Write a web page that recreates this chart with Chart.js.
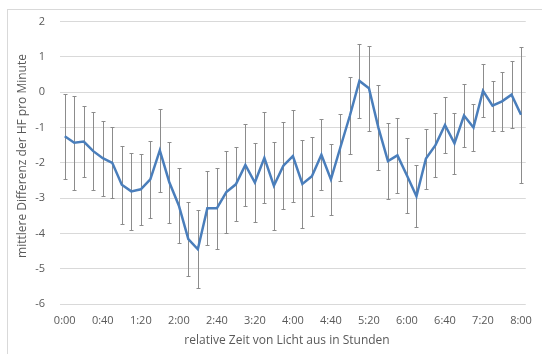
<!DOCTYPE html>
<html>
<head>
<meta charset="utf-8">
<script src="https://cdn.jsdelivr.net/npm/chart.js@4"></script>
<style>
  html, body { margin: 0; padding: 0; background: #fff; }
  #wrap { position: relative; width: 542px; height: 354px; overflow: hidden; }
  #frame { position: absolute; left: 7px; top: 9px; width: 600px; height: 400px;
           border-left: 1px solid #d9d9d9; border-top: 1px solid #d9d9d9; }
  canvas { position: absolute; left: 0; top: 0; }
</style>
</head>
<body>
<div id="wrap">
  <div id="frame"></div>
  <canvas id="chart" width="542" height="354"></canvas>
</div>
<script>
(function(){
  // time labels every 10 minutes, 0:00 .. 8:00
  const timeLabels = [
    '0:00','0:10','0:20','0:30','0:40','0:50',
    '1:00','1:10','1:20','1:30','1:40','1:50',
    '2:00','2:10','2:20','2:30','2:40','2:50',
    '3:00','3:10','3:20','3:30','3:40','3:50',
    '4:00','4:10','4:20','4:30','4:40','4:50',
    '5:00','5:10','5:20','5:30','5:40','5:50',
    '6:00','6:10','6:20','6:30','6:40','6:50',
    '7:00','7:10','7:20','7:30','7:40','7:50',
    '8:00'
  ];

  // mean difference of heart rate per minute
  const meanValues = [
    -1.25, -1.43, -1.40, -1.67, -1.87, -2.00,
    -2.62, -2.81, -2.75, -2.47, -1.65, -2.55,
    -3.21, -4.16, -4.45, -3.29, -3.29, -2.83,
    -2.61, -2.06, -2.56, -1.86, -2.65, -2.08,
    -1.81, -2.60, -2.38, -1.77, -2.47, -1.56,
    -0.66, 0.32, 0.11, -1.01, -1.95, -1.79,
    -2.36, -2.95, -1.88, -1.50, -0.93, -1.45,
    -0.66, -1.00, 0.04, -0.38, -0.26, -0.07,
    -0.64
  ];

  // error bar half length (+/-)
  const errValues = [
    1.21, 1.33, 1.00, 1.10, 1.06, 1.01,
    1.10, 1.10, 1.00, 1.10, 1.18, 1.15,
    1.05, 1.05, 1.11, 1.05, 1.15, 1.16,
    1.05, 1.17, 1.13, 1.29, 1.24, 1.23,
    1.31, 1.24, 1.12, 1.01, 1.00, 0.95,
    1.10, 1.05, 1.21, 1.20, 1.08, 1.07,
    1.05, 0.88, 0.85, 0.91, 0.79, 0.86,
    0.89, 0.67, 0.75, 0.71, 0.83, 0.94,
    1.93
  ];

  const xTitle = 'relative Zeit von Licht aus in Stunden';
  const yTitle = 'mittlere Differenz der HF pro Minute';

  const textColor = '#595959';
  const gridColor = '#d9d9d9';
  const lineColor = '#4a7ebb';
  const errColor = '#8c8c8c';
  const fontFamily = '"Open Sans", Calibri, sans-serif';

  // draws the vertical error bars with small caps
  const errorBars = {
    id: 'errorBars',
    beforeDatasetsDraw(chart){
      const ctx = chart.ctx;
      const xs = chart.scales.x, ys = chart.scales.y;
      ctx.save();
      ctx.strokeStyle = errColor;
      ctx.lineWidth = 1;
      meanValues.forEach((v, i) => {
        const x = Math.round(xs.getPixelForValue(i)) + 0.5;
        const yTop = Math.round(ys.getPixelForValue(v + errValues[i])) + 0.5;
        const yBot = Math.round(ys.getPixelForValue(v - errValues[i])) + 0.5;
        ctx.beginPath();
        ctx.moveTo(x, yTop); ctx.lineTo(x, yBot);
        ctx.moveTo(x - 2, yTop); ctx.lineTo(x + 2, yTop);
        ctx.moveTo(x - 2, yBot); ctx.lineTo(x + 2, yBot);
        ctx.stroke();
      });
      ctx.restore();
    }
  };

  // axis titles, centred on the whole chart frame like the original
  const axisTitles = {
    id: 'axisTitles',
    afterDraw(chart){
      const ctx = chart.ctx;
      ctx.save();
      ctx.fillStyle = textColor;
      ctx.font = '12px ' + fontFamily;
      ctx.textAlign = 'center';
      ctx.textBaseline = 'middle';
      ctx.fillText(xTitle, 287, 341);
      ctx.translate(23, 156);
      ctx.rotate(-Math.PI / 2);
      ctx.fillText(yTitle, 0, 0);
      ctx.restore();
    }
  };

  new Chart(document.getElementById('chart'), {
    type: 'line',
    data: {
      labels: timeLabels,
      datasets: [{
        data: meanValues,
        borderColor: lineColor,
        borderWidth: 2.5,
        pointRadius: 0,
        tension: 0,
        fill: false
      }]
    },
    options: {
      responsive: false,
      animation: false,
      events: [],
      layout: { padding: { left: 0, top: 20.5, right: 10, bottom: 0 } },
      plugins: {
        legend: { display: false },
        tooltip: { enabled: false }
      },
      scales: {
        x: {
          type: 'category',
          offset: true,
          grid: { display: false, drawTicks: false },
          border: { display: false },
          ticks: {
            autoSkip: false,
            maxRotation: 0,
            minRotation: 0,
            padding: 10,
            color: textColor,
            font: { family: fontFamily, size: 11 },
            callback: function(val, idx){ return idx % 4 === 0 ? timeLabels[idx] : ''; }
          },
          afterFit(scale){ scale.height = 50; }
        },
        y: {
          min: -6,
          max: 2,
          ticks: {
            stepSize: 1,
            padding: 15,
            color: textColor,
            font: { family: fontFamily, size: 11 }
          },
          grid: { color: gridColor, drawTicks: false },
          border: { display: false },
          afterFit(scale){ scale.width = 60; }
        }
      }
    },
    plugins: [errorBars, axisTitles]
  });
})();
</script>
</body>
</html>
